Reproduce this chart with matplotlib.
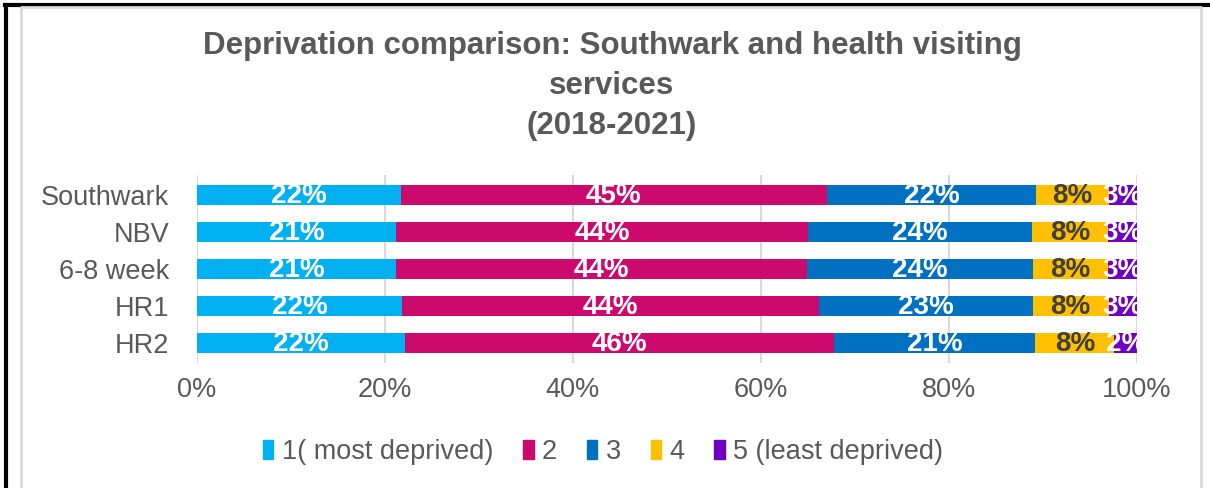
import matplotlib
matplotlib.use("Agg")
import matplotlib.pyplot as plt
from matplotlib.patches import Patch
from matplotlib.lines import Line2D

categories = ["Southwark", "NBV", "6-8 week", "HR1", "HR2"]
series_names = ["1( most deprived)", "2", "3", "4", "5 (least deprived)"]
q1 = [21.7, 21.2, 21.2, 21.8, 22.1]
q2 = [45.3, 43.8, 43.7, 44.4, 45.7]
q3 = [22.3, 23.8, 24.0, 22.7, 21.4]
q4 = [7.7, 8.1, 8.0, 8.1, 8.4]
q5 = [3.0, 3.1, 3.1, 3.0, 2.4]
series = [q1, q2, q3, q4, q5]
colors = ["#00B0F0", "#CC0A6E", "#0070C0", "#FFC000", "#7000C0"]
label_colors = ["white", "white", "white", "#404040", "white"]
xticks = [0, 20, 40, 60, 80, 100]
xtick_labels = ["0%", "20%", "40%", "60%", "80%", "100%"]

plt.rcParams['font.family'] = ['Liberation Sans', 'DejaVu Sans']
gray = "#595959"

fig = plt.figure(figsize=(12.1, 4.88), dpi=100)
ax = fig.add_axes([197/1210, 1 - 363/488, (1137-197)/1210, (363-175)/488])

ypos = list(range(len(categories)))
left = [0.0] * len(categories)
for vals, col, lcol, name in zip(series, colors, label_colors, series_names):
    bars = ax.barh(ypos, vals, left=left, height=0.555, color=col, label=name, zorder=2)
    for b, v in zip(bars, vals):
        cx = b.get_x() + b.get_width() / 2
        cy = b.get_y() + b.get_height() / 2
        t = ax.text(cx, cy + 0.04, f"{v:.0f}%", ha="center", va="center", color=lcol,
                    fontsize=20, fontweight="bold", zorder=3)
        t.set_clip_path(b)
    left = [l + v for l, v in zip(left, vals)]

ax.set_xlim(0, 100)
ax.set_ylim(len(categories) - 0.46, -0.54)
ax.set_yticks(ypos)
ax.set_yticklabels(categories)
ax.set_xticks(xticks)
ax.set_xticklabels(xtick_labels)
ax.tick_params(axis="both", length=0, labelsize=19.5, labelcolor=gray)
ax.tick_params(axis="y", pad=20)
ax.tick_params(axis="x", pad=10)
ax.grid(axis="x", color="#D9D9D9", linewidth=1.5, zorder=0)
ax.set_axisbelow(True)
for s in ax.spines.values():
    s.set_visible(False)

fig.text(612/1210, 1 - 86/488,
         "Deprivation comparison: Southwark and health visiting\nservices\n(2018-2021)",
         ha="center", va="center", fontsize=22.5, fontweight="bold", color=gray,
         linespacing=1.45)

handles = [Patch(facecolor=c, edgecolor=c) for c in colors]
fig.legend(handles, series_names, loc="center", bbox_to_anchor=(603/1210, 1 - 452/488),
           ncol=5, frameon=False, fontsize=19.5, labelcolor=gray,
           handlelength=0.4, handleheight=0.7, handletextpad=0.3, columnspacing=1.1)

# outer frames
fig.add_artist(Line2D([5/1210, 1], [1 - 5/488, 1 - 5/488], color="black", linewidth=3,
                      transform=fig.transFigure))
fig.add_artist(Line2D([6/1210, 6/1210], [0, 1 - 5/488], color="black", linewidth=3,
                      transform=fig.transFigure))
fig.add_artist(Line2D([21/1210, 21/1210, 1201/1210, 1201/1210],
                      [0, 1 - 7/488, 1 - 7/488, 0], color="#D9D9D9", linewidth=2,
                      transform=fig.transFigure))

fig.savefig("out.png", dpi=100)
